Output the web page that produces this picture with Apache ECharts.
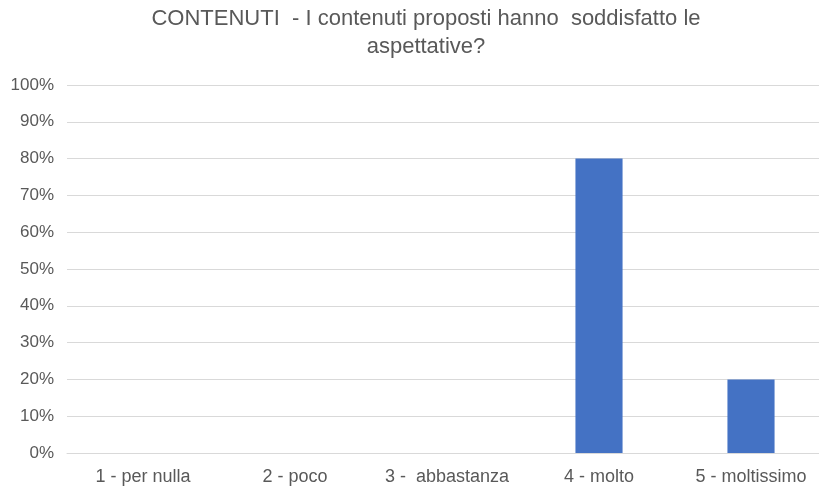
<!DOCTYPE html>
<html>
<head>
<meta charset="utf-8">
<script src="https://cdn.jsdelivr.net/npm/echarts@6/dist/echarts.min.js"></script>
<style>
  html, body { margin: 0; padding: 0; background: #fff; overflow: hidden; }
  #chart { width: 830px; height: 486px; }
</style>
</head>
<body>
<div id="chart"></div>
<script>
// categorie di risposta e percentuali
const categories = ['1 - per nulla', '2 - poco', '3 -  abbastanza', '4 - molto', '5 - moltissimo'];
const percentages = [0, 0, 0, 80, 20];
const yTicks = [0, 10, 20, 30, 40, 50, 60, 70, 80, 90, 100];

let chart = echarts.init(document.getElementById('chart'));

let option = {
  animation: false,
  title: {
    text: 'CONTENUTI  - I contenuti proposti hanno  soddisfatto le\naspettative?',
    left: 421,
    textAlign: 'center',
    top: 0,
    textStyle: {
      fontFamily: 'Liberation Sans, Arial, sans-serif',
      fontSize: 22,
      fontWeight: 'normal',
      color: '#595959',
      lineHeight: 28
    }
  },
  grid: {
    left: 67,
    top: 85,
    width: 760,
    height: 368
  },
  xAxis: {
    type: 'category',
    data: categories,
    axisLine: { show: true, lineStyle: { color: '#d9d9d9', width: 1 } },
    axisTick: { show: false },
    axisLabel: {
      interval: 0,
      color: '#595959',
      fontFamily: 'Liberation Sans, Arial, sans-serif',
      fontSize: 18,
      margin: 15
    }
  },
  yAxis: {
    type: 'value',
    min: yTicks[0],
    max: yTicks[yTicks.length - 1],
    interval: 10,
    axisLine: { show: false },
    axisTick: { show: false },
    splitLine: { lineStyle: { color: '#d9d9d9', width: 1 } },
    axisLabel: {
      color: '#595959',
      fontFamily: 'Liberation Sans, Arial, sans-serif',
      fontSize: 17,
      margin: 13,
      formatter: '{value}%'
    }
  },
  series: [{
    type: 'bar',
    data: percentages,
    barWidth: '31%',
    itemStyle: { color: '#4472c4' }
  }]
};

chart.setOption(option);
</script>
</body>
</html>
